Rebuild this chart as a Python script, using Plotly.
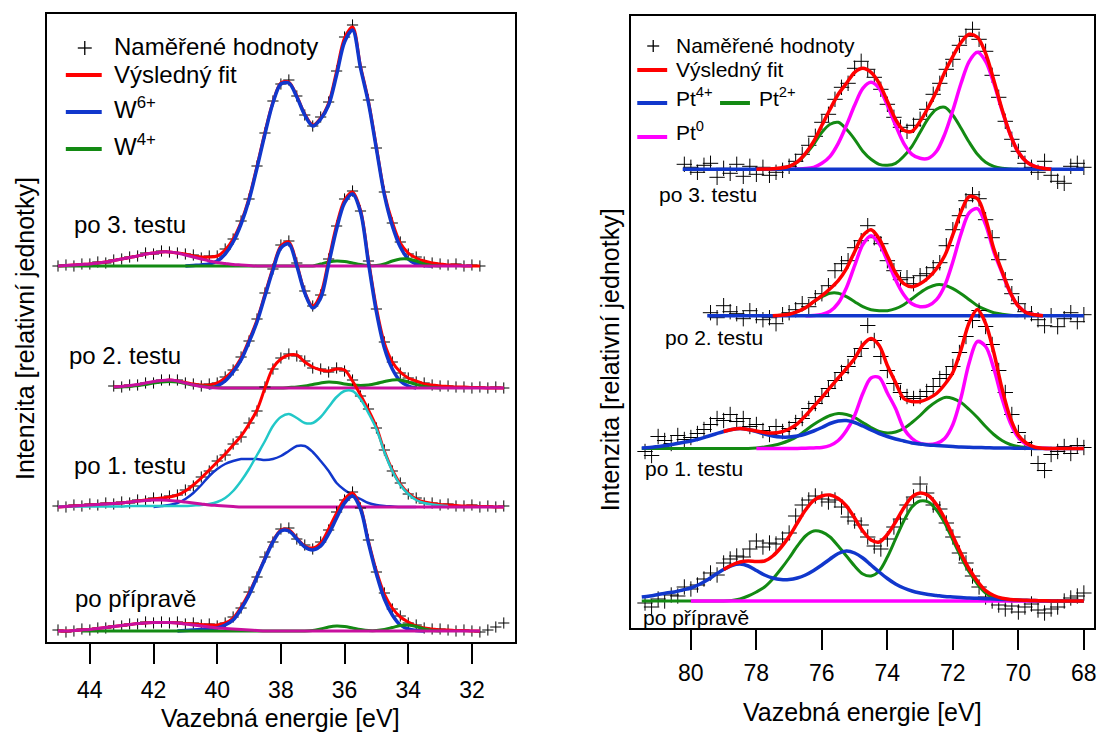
import plotly.graph_objects as go

FONT = "Liberation Sans, Arial, Helvetica, sans-serif"
W, H = 1104, 738

# ---------------- shared grids / ticks ----------------
E_LEFT = [round(45.0 - 0.25 * k, 2) for k in range(57)]          # W 4f energy grid
E_RIGHT = [round(81.5 - 0.25 * k, 2) for k in range(55)]         # Pt 4f fit grid
E_RIGHT_MEAS = [round(81.4 - 0.2 * k, 1) for k in range(68)]     # Pt 4f measured grid
LEFT_TICKS = [44, 42, 40, 38, 36, 34, 32]
RIGHT_TICKS = [80, 78, 76, 74, 72, 70, 68]
SPECTRA = ["po 3. testu", "po 2. testu", "po 1. testu", "po přípravě"]
LEFT_OFFSETS = [376, 254, 135, 11]
RIGHT_OFFSETS = [458.7, 312.3, 179.5, 27]

# ---------------- W 4f (left) : (start energy, heights) ----------------
W3_MEAS = (45.0, [0, 1, 0, 2, 2, 4, 3, 6, 7, 9, 10, 13, 12, 15, 14, 13, 12, 11, 8, 10, 10, 17, 27, 45,
                  67, 100, 133, 165, 182, 186, 170, 151, 140, 149, 164, 195, 229, 241, 199, 166,
                  118, 74, 43, 24, 12, 9, 4, 3, 2, 1, 2, 0, 1, 0])
W3_FIT = (45.0, [0, 0.5, 1, 1.5, 2, 3, 4, 5.5, 7, 8.5, 10, 12, 13, 14, 14, 13, 12, 10, 9, 9, 10, 16, 27, 44,
                 68, 100, 134, 164, 183, 184, 170, 152, 141, 148, 163, 195, 228, 239, 200, 165,
                 119, 73, 44, 23, 13, 8, 5, 3, 2, 1, 1, 0, 0, 0])
W3_W6 = (41.0, [0, 0.5, 1, 2, 5, 12, 24, 42, 66, 98, 132, 163, 182, 183, 169, 151, 140, 147, 161, 191,
                224, 236, 198, 163, 117, 71, 40, 19, 7, 2, 0.5, 0])
W3_W4 = (45.0, [0] * 33 + [2, 4, 5, 4.5, 3, 1.5, 0.5, 0.5, 2, 5, 7, 7, 5, 2, 0.5, 0])
W3_BG = (45.0, [0, 0.5, 1, 1.5, 2, 3, 4, 5.5, 7, 8.5, 10, 12, 13, 14, 14, 13, 11, 9, 7, 5, 3.5, 2.5, 1.5,
                1, 0.5] + [0] * 28)

W2_MEAS = (43.25, [2, 1, 3, 3, 5, 5, 8, 8, 8, 5, 4, 2, 4, 5, 11, 18, 31, 47, 69, 95, 119, 143, 147, 125,
                   97, 82, 93, 129, 162, 189, 197, 177, 127, 79, 46, 26, 15, 10, 6, 5, 3, 2, 2, 1, 1,
                   0, 1, 0, 1, 0])
W2_FIT = (43.25, [1, 1.5, 2, 3, 4.5, 6, 7, 8, 7, 5.5, 4, 3, 3, 5, 10, 18, 30, 48, 68, 94, 120, 142, 146,
                  124, 96, 82, 94, 128, 163, 188, 196, 178, 128, 80, 45, 26, 16, 10, 7, 4, 3, 2, 1.5,
                  1, 1, 0.5, 0.5, 0, 0, 0])
W2_W6 = (40.25, [0, 2, 7, 16, 28, 46, 66, 92, 118, 140, 144, 122, 95, 80, 90, 124, 159, 185, 194, 176,
                 125, 76, 40, 19, 7, 2, 0])
W2_W4 = (43.25, [0.5, 1, 1.5, 2.5, 3.5, 5, 6, 6.5, 6, 4.5, 3, 2, 1, 0.5, 0, 0, 0, 0, 0, 0, 0, 0, 0.5, 1,
                 2, 3.5, 5, 6, 5.5, 4, 3, 2.5, 3, 4.5, 6.5, 8, 8, 6, 3.5, 1.5, 0.5, 0])
W2_BG = (43.25, [1, 1.5, 2.5, 3.5, 5, 6.5, 7.5, 8, 7, 5, 3, 1.5, 0.5, 0, 0, 0] + [0] * 34)

W1_MEAS = (45.0, [1, 0, 2, 1, 3, 2, 4, 3, 5, 4, 7, 6, 9, 8, 11, 12, 17, 21, 30, 36, 46, 52, 63, 70, 84,
                  96, 120, 138, 149, 153, 151, 146, 139, 138, 135, 139, 136, 127, 111, 98, 79, 57, 36,
                  24, 13, 9, 4, 4, 2, 3, 1, 1, 2, 0, 1, 0, 1])
W1_FIT = (45.0, [0, 0.5, 1, 1.5, 2, 2.5, 3, 3.5, 4, 5, 6, 7, 8, 9, 10, 12, 16, 22, 29, 37, 45, 53, 62, 71,
                 83, 97, 119, 139, 148, 152, 152, 145, 140, 137, 136, 138, 137, 126, 112, 97, 80, 56,
                 37, 23, 14, 8, 5, 3.5, 2.5, 2, 1.5, 1, 1, 0.5, 0.5, 0, 0])
W1_C1 = (45.0, [0.5] * 9 + [1] * 8 + [1.5, 2, 3, 5, 9, 16, 26, 38, 52, 66, 81, 90, 93, 89, 84, 84, 90,
                                      100, 110, 116, 116, 108, 94, 78, 55, 36, 22, 13, 7, 4, 2.5, 1.5, 1])
W1_C2 = (42.0, [0, 1, 2, 4, 8, 14, 22, 31, 38, 43, 46, 48, 48, 48, 47, 48, 51, 56, 61, 61, 55, 46, 36,
                24, 17, 12, 8, 4, 2, 1, 0.5, 0, 0, 0])
W1_BG = (45.0, [0, 0.5, 1, 1.5, 2, 2.5, 3, 3.5, 4, 5, 6, 6.5, 7, 7, 6.5, 6, 5, 4, 3, 2, 1.5, 1, 0.5, 0]
         + [0] * 33)

W0_MEAS = (45.0, [1, -1, 0, 2, 1, 3, 3, 5, 5, 7, 7, 9, 8, 9, 8, 9, 7, 8, 6, 7, 5, 8, 14, 23, 39, 54, 74,
                  89, 102, 103, 92, 86, 82, 89, 101, 119, 131, 139, 123, 91, 59, 38, 22, 15, 8, 6, 3,
                  2, 2, 1, 0, 1, 0, -1, 1, 4, 8])
W0_FIT = (45.0, [0, 0, 0.5, 1, 1.5, 2.5, 3.5, 4.5, 5.5, 6.5, 7.5, 8, 8.5, 8.5, 8.5, 8, 7.5, 7, 6.5, 6, 6,
                 8, 13, 24, 38, 55, 73, 90, 101, 101, 93, 85, 83, 88, 102, 118, 132, 138, 124, 90, 60,
                 37, 23, 14, 9, 5, 3, 2, 1, 1, 0.5, 0.5, 0, 0])
W0_W6 = (41.25, [0, 0.5, 1, 1.5, 2, 3, 6, 11, 22, 36, 54, 72, 89, 100, 100, 92, 84, 81, 85, 97, 113, 128,
                 135, 122, 88, 57, 32, 16, 6, 2, 0.5, 0])
W0_W4 = (44.25, [0] * 29 + [0.5, 2, 4, 5, 4.5, 3, 1.5, 0.5, 0.5, 1.5, 3.5, 5.5, 6, 4.5, 2, 0.5, 0])
W0_BG = (45.0, [0, 0, 0.5, 1, 1.5, 2.5, 3.5, 4.5, 5.5, 6.5, 7.5, 8, 8.5, 8.5, 8.5, 8, 7, 6, 5, 4, 3, 2.5,
                2, 1.5, 1, 0.5] + [0] * 28)

# ---------------- Pt 4f (right) ----------------
PT3_MEAS = (80.2, [5, 2, -3, 4, 6, -8, 1, -4, 5, -7, 3, -5, 2, -6, -3, -1, 3, 8, 15, 24, 33, 47, 55, 70,
                   82, 86, 101, 108, 100, 92, 80, 65, 52, 42, 38, 44, 50, 60, 75, 86, 100, 110, 124,
                   133, 140, 130, 118, 94, 72, 48, 30, 18, 6, 2, -3, 8, -6, -12, -14, 3, 6, 2])
PT3_FIT = (78.0, [0, 0.2, 0.5, 1.2, 3, 7.5, 16, 28, 44, 60, 75, 86, 97, 101, 97, 86, 68, 50, 39, 38, 48,
                  62, 78, 97, 113, 127, 135, 132, 116, 89, 60, 35, 17, 7.5, 3, 1, 0])
PT3_P4 = (80.25, [0] * 50)
PT3_P2 = (77.75, [0, 0.3, 1, 3, 7, 15, 25, 37, 45, 47, 40, 30, 18, 10, 5, 4, 6, 13, 23, 37, 51, 60, 62,
                  54, 41, 27, 15, 7, 3, 1, 0.3, 0])
PT3_P0 = (77.0, [0, 0.3, 0.7, 2, 6, 13, 26, 44, 64, 81, 87, 81, 64, 44, 26, 15, 11, 11, 18, 35, 59, 86,
                 108, 117, 108, 86, 59, 35, 17, 7.5, 3, 1, 0])

PT2_MEAS = (79.4, [3, -2, 10, 4, 2, -3, 5, 0, -4, -2, -8, 1, 3, 6, 12, 9, 18, 22, 30, 45, 52, 55, 68, 75,
                   90, 78, 72, 55, 45, 36, 38, 32, 40, 42, 48, 53, 70, 86, 100, 115, 121, 117, 96, 78,
                   56, 36, 22, 12, 4, 2, -4, -10, 0, -11, -3, 3, -6, 1])
PT2_FIT = (77.5, [0, 0.5, 1.5, 4, 8, 14, 20, 27, 35, 47, 64, 80, 86, 77, 60, 43, 32, 29, 32, 38, 47, 60,
                  81, 104, 119, 117, 97, 67, 44.5, 23.5, 9.5, 3, 1, 0])
PT2_P4 = (79.5, [0] * 47)
PT2_P2 = (77.5, [0, 0.5, 1.5, 4, 8, 14, 19, 22.5, 22.5, 19, 14, 9, 6, 5, 5, 7, 11, 17, 23, 28, 31, 30.5,
                 27, 22, 16, 10, 6, 3, 1.5, 0.5, 0])
PT2_P0 = (76.5, [0, 0.2, 1.2, 4.4, 12.6, 28, 50, 71, 80, 72, 55, 36, 21, 12, 9, 10, 16, 30, 54, 82, 103,
                 107, 91, 64, 43, 23, 9.5, 3, 1, 0])

PT1_MEAS = (81.4, [-3, -7, 12, 8, 5, 13, 9, 11, 15, 19, 24, 30, 28, 34, 27, 30, 22, 24, 18, 14, 22, 17,
                   20, 26, 30, 40, 45, 52, 60, 68, 76, 82, 92, 100, 123, 108, 92, 78, 65, 56, 52, 50,
                   52, 57, 62, 70, 74, 82, 96, 112, 128, 138, 122, 104, 78, 56, 34, 16, 6, 0, -15,
                   -22, -6, -3, 2, -5, 3, 1])
PT1_FIT = (79.0, [17, 19, 20, 19, 17.5, 16, 15.5, 16.5, 19.5, 24.6, 32.8, 42, 51, 61, 70.5, 80, 90, 103.5,
                  110, 103, 83, 66, 50, 47, 47, 50, 55, 64, 76, 99, 126, 139, 125, 96, 60, 31, 13.3,
                  5.2, 1.4, 0.2, 0, 0, 0, 0, 0])
PT1_P4 = (81.5, [0.5, 1, 2, 3, 4.5, 6, 7.5, 9.5, 12, 14.5, 17, 19, 20, 19, 17, 14.5, 12.5, 11.5, 11.5,
                 12.5, 14.5, 17.5, 21, 25, 27.5, 28, 26, 22.5, 18.5, 15, 12, 9.5, 7.5, 5.5, 4.5, 3.5,
                 3, 2.5, 2, 1.5, 1.2, 1, 0.8, 0.6, 0.5, 0.4, 0.3, 0.2, 0.1, 0, 0, 0, 0, 0, 0])
PT1_P2 = (81.5, [0] * 14 + [0.5, 1.5, 3, 5, 8, 12, 18, 24, 29, 33, 35, 34, 31, 26, 21, 17, 15.5, 16.5,
                            20, 26, 33, 41, 47, 51, 50, 46, 39, 31, 22, 14, 8, 4, 2, 1, 0.3, 0] + [0] * 5)
PT1_P0 = (78.0, [0, 0, 0, 0, 0, 0.1, 0.3, 0.6, 1, 3, 8, 18, 33, 55, 70.6, 71, 55.5, 40, 20, 10, 5, 4, 5,
                 10, 24, 51, 86, 107, 102, 80, 50, 26, 11, 4, 1, 0.2, 0])

PT0_MEAS = (81.4, [-2, -6, 2, 0, 6, 5, 14, 12, 16, 22, 28, 26, 38, 42, 45, 44, 52, 60, 54, 58, 57, 62,
                   68, 85, 96, 101, 105, 102, 99, 101, 94, 84, 80, 76, 64, 55, 52, 62, 74, 82, 96,
                   104, 117, 108, 96, 92, 78, 64, 48, 38, 25, 14, 4, 0, -4, -8, -5, -11, -6, -3, -9,
                   -12, -8, -6, 0, 3, 5, 8])
PT0_FIT = (79.0, [31.5, 36, 39, 40, 39.5, 40, 45, 53.5, 64.5, 78, 91, 100.5, 105, 106, 102.5, 95, 83, 70,
                  61, 59, 66.5, 79, 93, 104, 108, 105.5, 96.5, 82.5, 65, 47.5, 32, 19.7, 10.3, 5.5,
                  2.8, 1.6, 1, 0.7, 0.4, 0.2, 0, 0, 0, 0, 0])
PT0_P4 = (81.5, [4, 5, 6.5, 8, 9, 11, 13, 16.5, 21, 26.5, 31.5, 35.5, 37, 35, 30.5, 26, 23, 21.5, 21.5,
                 23, 26, 30.5, 36, 42, 47.5, 50, 48, 43, 36, 29, 22.5, 17, 13, 10, 8, 6.5, 5.5, 4.5,
                 4, 3.5, 3, 2.7, 2.3, 2, 1.6, 1.3, 1, 0.7, 0.4, 0.2, 0, 0, 0, 0, 0])
PT0_P2 = (81.5, [0] * 11 + [0.5, 2, 5, 9, 14, 22, 32, 43, 55, 65, 70, 69, 64, 55, 45, 35, 27, 25, 30, 44,
                            62, 80, 94, 100, 99, 91, 78, 61, 44, 29, 17, 8, 3.5, 1.2, 0.3, 0] + [0] * 8)
PT0_P0 = (80.0, [0] * 45)

# ---------------- styles ----------------
RED = "#ff0000"
BLUE = "#1137cc"
GREEN = "#138a13"
MAG_L = "#c8109e"
MAG_R = "#ff00ff"
CYAN = "#22c8c8"


def seg(grid, step, series):
    start, vals = series
    i = int(round((grid[0] - start) / step))
    return grid[i:i + len(vals)], vals


fig = go.Figure()


def add_line(grid, step, series, off, color, width, xa, ya):
    xs, vals = seg(grid, step, series)
    fig.add_trace(go.Scatter(x=xs, y=[off + v for v in vals], mode="lines",
                             line=dict(color=color, width=width, shape="spline", smoothing=0.9),
                             xaxis=xa, yaxis=ya, showlegend=False, hoverinfo="skip"))


def add_meas(grid, step, series, off, size, xa, ya):
    xs, vals = seg(grid, step, series)
    fig.add_trace(go.Scatter(x=xs, y=[off + v for v in vals], mode="markers",
                             marker=dict(symbol="cross-thin-open", size=size, color="black",
                                         line=dict(color="black", width=1)),
                             xaxis=xa, yaxis=ya, showlegend=False, hoverinfo="skip"))


# left panel, top spectrum first
left_sets = [
    (W3_MEAS, W3_FIT, [(W3_W6, BLUE, 3.5), (W3_W4, GREEN, 3), (W3_BG, MAG_L, 3)]),
    (W2_MEAS, W2_FIT, [(W2_W6, BLUE, 3.5), (W2_W4, GREEN, 3), (W2_BG, MAG_L, 3)]),
    (W1_MEAS, W1_FIT, [(W1_C2, BLUE, 2.5), (W1_C1, CYAN, 2.5), (W1_BG, MAG_L, 3)]),
    (W0_MEAS, W0_FIT, [(W0_W6, BLUE, 3.5), (W0_W4, GREEN, 3), (W0_BG, MAG_L, 3)]),
]
for (meas, fit, comps), off in zip(left_sets, LEFT_OFFSETS):
    add_meas(E_LEFT, 0.25, meas, off, 8, "x", "y")
    add_line(E_LEFT, 0.25, fit, off, RED, 3, "x", "y")
    for ser, col, wd in comps:
        add_line(E_LEFT, 0.25, ser, off, col, wd, "x", "y")

right_sets = [
    (PT3_MEAS, PT3_FIT, PT3_P4, PT3_P2, PT3_P0),
    (PT2_MEAS, PT2_FIT, PT2_P4, PT2_P2, PT2_P0),
    (PT1_MEAS, PT1_FIT, PT1_P4, PT1_P2, PT1_P0),
    (PT0_MEAS, PT0_FIT, PT0_P4, PT0_P2, PT0_P0),
]
for (meas, fit, p4, p2, p0), off in zip(right_sets, RIGHT_OFFSETS):
    add_meas(E_RIGHT_MEAS, 0.2, meas, off, 11, "x2", "y2")
    add_line(E_RIGHT, 0.25, p2, off, GREEN, 3, "x2", "y2")
    add_line(E_RIGHT, 0.25, p0, off, MAG_R, 3.5, "x2", "y2")
    add_line(E_RIGHT, 0.25, p4, off, BLUE, 3.5, "x2", "y2")
    add_line(E_RIGHT, 0.25, fit, off, RED, 3.5, "x2", "y2")


def px(x):
    return x / W


def py(y):
    return 1 - y / H


axis_common = dict(showline=True, linewidth=2, linecolor="black", mirror=True, showgrid=False,
                   zeroline=False)
fig.update_layout(
    width=W, height=H, margin=dict(l=0, r=0, t=0, b=0),
    paper_bgcolor="white", plot_bgcolor="white", showlegend=False,
    font=dict(family=FONT, color="black"),
    xaxis=dict(domain=[px(47), px(516)], range=[45.35, 30.66], tickvals=LEFT_TICKS,
               ticks="outside", ticklen=20, tickwidth=2, tickcolor="black",
               tickfont=dict(size=23, family=FONT), ticklabelstandoff=6, anchor="y", **axis_common),
    yaxis=dict(domain=[py(642), py(14)], range=[0, 628], showticklabels=False, ticks="",
               anchor="x", **axis_common),
    xaxis2=dict(domain=[px(633), px(1097)], range=[81.82, 67.69], tickvals=RIGHT_TICKS,
                ticks="outside", ticklen=20, tickwidth=2, tickcolor="black",
                tickfont=dict(size=23, family=FONT), ticklabelstandoff=3, anchor="y2", **axis_common),
    yaxis2=dict(domain=[py(628), py(16)], range=[0, 612], showticklabels=False, ticks="",
                anchor="x2", **axis_common),
)

ann = []


def text(x, y, s, size, xanchor="left", yanchor="middle", angle=0):
    ann.append(dict(x=px(x), y=py(y), xref="paper", yref="paper", text=s, showarrow=False,
                    xanchor=xanchor, yanchor=yanchor, textangle=angle,
                    font=dict(size=size, family=FONT, color="black")))


# axis titles
text(281, 718, "Vazebná energie [eV]", 25, "center")
text(865, 712, "Vazebná energie [eV]", 25, "center")
text(25, 328, "Intenzita [relativní jednotky]", 25, "center", angle=-90)
text(612, 360, "Intenzita [relativní jednotky]", 25, "center", angle=-90)

# spectrum labels
for lbl, (x, y) in zip(SPECTRA, [(72, 224), (67, 355), (72, 465), (73, 598)]):
    text(x, y, lbl, 24)
for lbl, (x, y) in zip(SPECTRA, [(659, 195), (665, 338), (645, 468), (643, 617)]):
    text(x, y, lbl, 21)

shapes = []


def hline(x0, x1, y, color, width):
    shapes.append(dict(type="line", xref="paper", yref="paper", x0=px(x0), x1=px(x1), y0=py(y),
                       y1=py(y), line=dict(color=color, width=width)))


def plus(cx, cy, r):
    shapes.append(dict(type="line", xref="paper", yref="paper", x0=px(cx - r), x1=px(cx + r),
                       y0=py(cy), y1=py(cy), line=dict(color="black", width=1.3)))
    shapes.append(dict(type="line", xref="paper", yref="paper", x0=px(cx), x1=px(cx),
                       y0=py(cy - r), y1=py(cy + r), line=dict(color="black", width=1.3)))


# left legend
plus(85, 48, 7)
text(112, 47, "Naměřené hodnoty", 24)
hline(66, 102, 75, RED, 4)
text(112, 75, "Výsledný fit", 24)
hline(66, 102, 112, BLUE, 4)
text(112, 108, "W<sup>6+</sup>", 24)
hline(66, 102, 149, GREEN, 4)
text(112, 145, "W<sup>4+</sup>", 24)

# right legend
plus(655, 46, 6)
text(676, 45, "Naměřené hodnoty", 21)
hline(639, 669, 70, RED, 4)
text(676, 70, "Výsledný fit", 21)
hline(639, 669, 103, BLUE, 4)
text(676, 97, "Pt<sup>4+</sup>", 21)
hline(722, 752, 103, GREEN, 4)
text(759, 97, "Pt<sup>2+</sup>", 21)
hline(639, 669, 137, MAG_R, 4)
text(676, 131, "Pt<sup>0</sup>", 21)

fig.update_layout(annotations=ann, shapes=shapes)
fig.write_html("out.html", config={"displayModeBar": False},
               post_script="document.body.style.margin='0';")
